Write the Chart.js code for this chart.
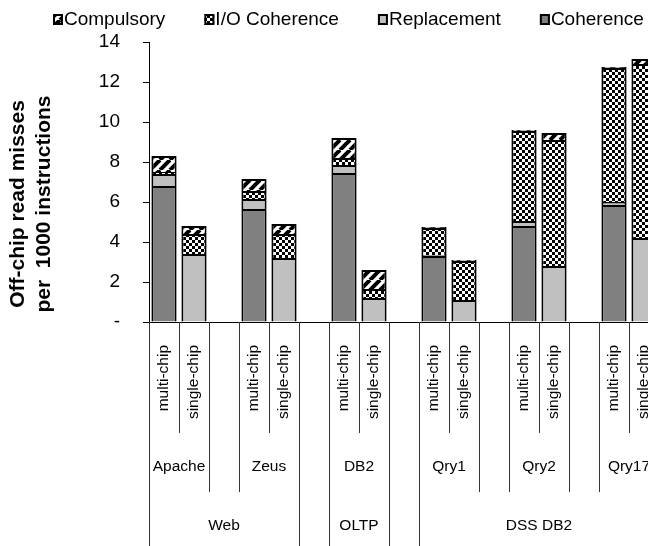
<!DOCTYPE html>
<html><head><meta charset="utf-8">
<script src="https://cdn.jsdelivr.net/npm/chart.js@4.4.0/dist/chart.umd.min.js"></script>
<style>
html,body{margin:0;padding:0;overflow:hidden;background:#fff;width:648px;height:546px}
#c{display:block}
</style></head>
<body>
<canvas id="c" width="670" height="546" style="width:670px;height:546px"></canvas>
<script>
// ---- data ----
const categories = ['multi-chip','single-chip','','multi-chip','single-chip','','multi-chip','single-chip','',
                    'multi-chip','single-chip','','multi-chip','single-chip','','multi-chip','single-chip'];
const workloadSpans = [['Apache',2],['',1],['Zeus',2],['',1],['DB2',2],['',1],['Qry1',2],['',1],['Qry2',2],['',1],['Qry17',2]];
const suiteSpans = [['Web',5],['',1],['OLTP',2],['',1],['DSS DB2',8]];
const seriesNames = ['Coherence','Replacement','I/O Coherence','Compulsory'];
const coherence   = [6.8, 0, null, 5.65, 0, null, 7.45, 0, null, 3.3, 0, null, 4.8, 0, null, 5.85, 0];
const replacement = [0.6, 3.4, null, 0.5, 3.2, null, 0.4, 1.2, null, 0.05, 1.1, null, 0.25, 2.8, null, 0.15, 4.2];
const ioCoherence = [0.1, 1.0, null, 0.4, 1.2, null, 0.35, 0.45, null, 1.35, 1.95, null, 4.5, 6.3, null, 6.7, 8.7];
const compulsory  = [0.8, 0.4, null, 0.6, 0.5, null, 1.0, 0.95, null, 0.05, 0.05, null, 0.05, 0.35, null, 0.05, 0.25];
const yTicks = [0,2,4,6,8,10,12,14];
const yTitleLines = ['Off-chip read misses','per  1000 instructions'];

const FONT = "'Liberation Sans', Arial, Helvetica, sans-serif";

function stripePattern(){
  const s = 10, c = document.createElement('canvas'); c.width = s; c.height = s;
  const g = c.getContext('2d');
  g.fillStyle = '#fff'; g.fillRect(0,0,s,s);
  g.strokeStyle = '#000'; g.lineWidth = 4;
  [-s, 0, s].forEach(dx => {
    g.beginPath(); g.moveTo(dx, s); g.lineTo(dx+s, 0); g.stroke();
  });
  return g.createPattern(c,'repeat');
}
function checkerPattern(){
  const q = 3, c = document.createElement('canvas'); c.width = 2*q; c.height = 2*q;
  const g = c.getContext('2d');
  g.fillStyle = '#fff'; g.fillRect(0,0,2*q,2*q);
  g.fillStyle = '#000'; g.fillRect(0,0,q,q); g.fillRect(q,q,q,q);
  return g.createPattern(c,'repeat');
}
const fills = ['#808080', '#c0c0c0', checkerPattern(), stripePattern()];
const values = [coherence, replacement, ioCoherence, compulsory];

const groupAxisPlugin = {
  id: 'groupAxis',
  afterDraw(chart){
    const ctx = chart.ctx, xs = chart.scales.x;
    const step = xs.getPixelForValue(1) - xs.getPixelForValue(0);
    const edge = k => xs.getPixelForValue(k) - step/2;
    const y0 = xs.top;
    const rowBottom = [y0 + 111, y0 + 170, chart.height];
    const b2 = new Set([0]), b3 = new Set([0]);
    let k = 0; workloadSpans.forEach(([l,n]) => { k += n; b2.add(k); });
    k = 0; suiteSpans.forEach(([l,n]) => { k += n; b3.add(k); });
    ctx.save();
    ctx.strokeStyle = '#333'; ctx.lineWidth = 1;
    for (let i = 0; i <= categories.length; i++) {
      const x = Math.round(edge(i)) + 0.5;
      const yb = b3.has(i) ? rowBottom[2] : (b2.has(i) ? rowBottom[1] : rowBottom[0]);
      ctx.beginPath(); ctx.moveTo(x, y0); ctx.lineTo(x, yb); ctx.stroke();
    }
    ctx.fillStyle = '#000';
    ctx.font = '15.5px ' + FONT; ctx.textAlign = 'center'; ctx.textBaseline = 'middle';
    k = 0; workloadSpans.forEach(([l,n]) => { if (l) ctx.fillText(l, (edge(k)+edge(k+n))/2, y0 + 145); k += n; });
    k = 0; suiteSpans.forEach(([l,n]) => { if (l) ctx.fillText(l, (edge(k)+edge(k+n))/2, y0 + 204); k += n; });

    // y-axis title
    ctx.font = 'bold 21px ' + FONT;
    [18, 44].forEach((x, i) => {
      ctx.save(); ctx.translate(x, 204); ctx.rotate(-Math.PI/2);
      ctx.fillText(yTitleLines[i], 0, 0); ctx.restore();
    });

    // legend (reverse order)
    ctx.font = '19px ' + FONT; ctx.textAlign = 'left';
    let lx = 53;
    const ds = chart.data.datasets.slice().reverse();
    ds.forEach(d => {
      ctx.fillStyle = d.backgroundColor;
      ctx.fillRect(lx, 14, 10, 11);
      ctx.strokeStyle = '#000'; ctx.lineWidth = 2;
      ctx.strokeRect(lx + 1, 15, 8, 9);
      ctx.fillStyle = '#000';
      ctx.fillText(d.label, lx + 11, 20);
      lx += 11 + ctx.measureText(d.label).width + 39;
    });
    ctx.restore();
  }
};

new Chart(document.getElementById('c'), {
  type: 'bar',
  data: {
    labels: categories,
    datasets: seriesNames.map((n, i) => ({
      label: n, data: values[i], backgroundColor: fills[i],
      borderColor: '#000', borderWidth: 2,
      barPercentage: 0.84, categoryPercentage: 1
    }))
  },
  options: {
    responsive: false, animation: false,
    layout: { padding: { top: 42, right: 11, left: 0, bottom: 0 } },
    plugins: { legend: { display: false }, tooltip: { enabled: false } },
    scales: {
      x: {
        stacked: true,
        grid: { display: false },
        border: { display: true, color: '#000', width: 1 },
        ticks: { autoSkip: false, minRotation: 90, maxRotation: 90, padding: 15,
                 color: '#000', font: { family: FONT, size: 15.5 } },
        afterFit: s => { s.height = 224; s.paddingLeft = 0; s.paddingRight = 0; }
      },
      y: {
        stacked: true, min: 0, max: 14,
        afterBuildTicks: s => { s.ticks = yTicks.map(v => ({ value: v })); },
        grid: { display: true, drawOnChartArea: false, drawTicks: true, tickLength: 6, color: '#000' },
        border: { display: true, color: '#000', width: 1 },
        ticks: { padding: 23, color: '#000', font: { family: FONT, size: 19 },
                 callback: v => v === 0 ? '-' : String(v) },
        afterFit: s => { s.width = 149; }
      }
    }
  },
  plugins: [groupAxisPlugin]
});
</script>
</body></html>
